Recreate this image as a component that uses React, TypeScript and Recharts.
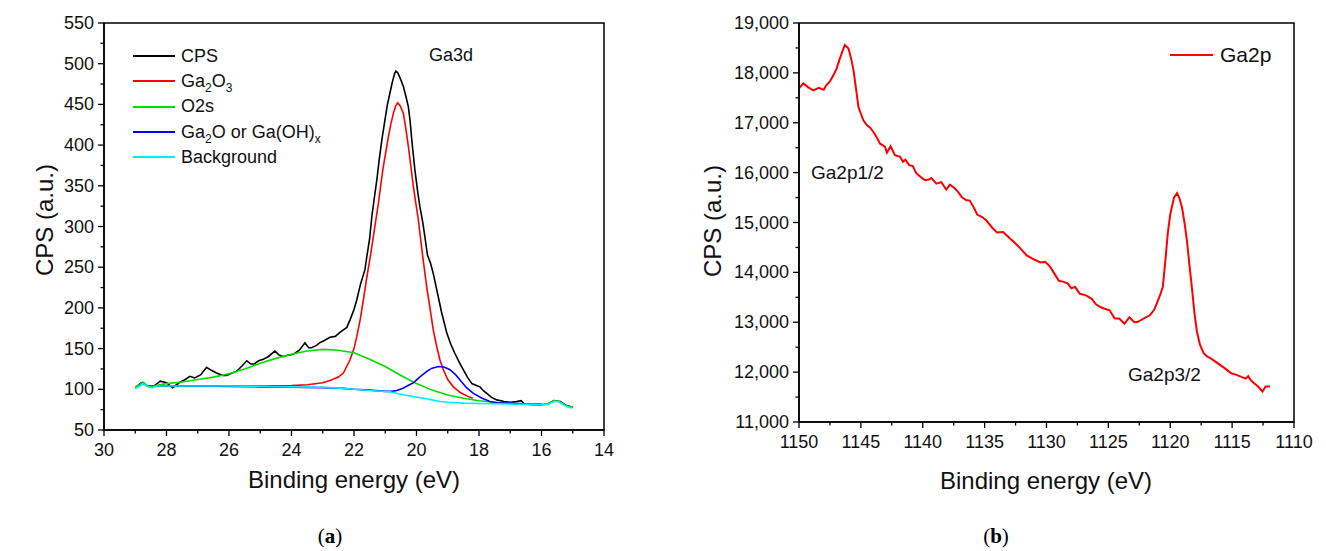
import React from 'react';
import { LineChart, Line, XAxis, YAxis, ReferenceArea, Legend } from 'recharts';

// ---------- (a) Ga3d region: [binding energy eV, CPS]
const cpsScan: [number, number][] = [
  [29.0, 102], [28.8, 108], [28.6, 104], [28.4, 104], [28.2, 110], [28.0, 108], [27.8, 102], [27.6, 108],
  [27.4, 112], [27.25, 116], [27.1, 114], [26.9, 118], [26.72, 127], [26.55, 123], [26.4, 120], [26.2, 117],
  [26.08, 117], [25.9, 120], [25.76, 122], [25.6, 128], [25.43, 135], [25.3, 131], [25.2, 131], [25.05, 135],
  [24.9, 137], [24.75, 140], [24.53, 147], [24.4, 142], [24.26, 140], [24.1, 142], [23.95, 143], [23.75, 148],
  [23.57, 157], [23.45, 151], [23.36, 151], [23.2, 154], [23.1, 157], [22.95, 160], [22.77, 164], [22.6, 165],
  [22.45, 170], [22.34, 173], [22.23, 176], [22.13, 185], [22.0, 198], [21.91, 210], [21.8, 228], [21.65, 247],
  [21.59, 263], [21.5, 285], [21.43, 312], [21.35, 335], [21.27, 357], [21.2, 380], [21.11, 406], [21.0, 433],
  [20.93, 450], [20.85, 464], [20.77, 478], [20.7, 488], [20.66, 491], [20.6, 489], [20.52, 482], [20.42, 472],
  [20.34, 460], [20.26, 447], [20.2, 428], [20.15, 406], [20.05, 369], [19.97, 345], [19.89, 324], [19.8, 305],
  [19.73, 287], [19.65, 265], [19.55, 255], [19.45, 240], [19.35, 222], [19.2, 195], [19.03, 169], [18.9, 155],
  [18.77, 144], [18.63, 133], [18.5, 124], [18.37, 115], [18.23, 107], [18.1, 105], [17.97, 103], [17.85, 98],
  [17.75, 95], [17.6, 90], [17.43, 87], [17.2, 85], [17.0, 84], [16.8, 85], [16.65, 86], [16.55, 82],
  [16.3, 81], [16.0, 81], [15.8, 82], [15.6, 86], [15.4, 85], [15.2, 80], [15.0, 78],
];

const ga2o3Fit: [number, number][] = [
  [28.3, 104], [27, 104], [26, 104], [25, 104], [24, 104.5], [23.5, 105.5], [23, 108], [22.75, 111],
  [22.5, 115], [22.34, 120], [22.13, 136], [22.0, 150], [21.91, 165], [21.8, 186], [21.7, 210], [21.6, 235],
  [21.47, 265], [21.38, 288], [21.3, 308], [21.22, 328], [21.14, 352], [21.06, 374], [20.98, 392], [20.9, 410],
  [20.82, 426], [20.74, 439], [20.67, 448], [20.6, 452], [20.52, 448], [20.42, 439], [20.34, 420], [20.26, 398],
  [20.18, 374], [20.1, 349], [20.02, 328], [19.94, 308], [19.87, 285], [19.8, 263], [19.67, 225], [19.57, 200],
  [19.46, 172], [19.35, 152], [19.25, 136], [19.14, 124], [19.0, 112], [18.82, 103], [18.6, 96], [18.34, 91],
  [18.2, 89],
];

const o2sFit: [number, number][] = [
  [29.0, 102], [28.85, 106], [28.75, 109], [28.6, 104], [28.45, 103], [28.3, 105], [28.0, 107], [27.5, 109],
  [27.0, 112], [26.5, 115], [26.0, 119], [25.5, 125], [25.0, 132], [24.5, 138], [24.0, 143], [23.5, 147],
  [23.0, 149], [22.5, 148], [22.0, 145], [21.5, 137], [21.0, 128], [20.5, 117], [20.0, 107], [19.5, 99],
  [19.0, 93], [18.5, 89], [18.0, 86], [17.5, 84], [17.0, 83], [16.5, 82], [16.0, 81.5], [15.8, 82],
  [15.6, 86], [15.45, 85], [15.3, 82], [15.15, 79], [15.0, 78],
];

const ga2oFit: [number, number][] = [
  [28.3, 104], [27, 104], [26, 103.5], [25, 103], [24, 102.5], [23, 102], [22.45, 101.5], [22, 100],
  [21.5, 99], [21.0, 97.5], [20.8, 97.5], [20.63, 98.5], [20.45, 101], [20.3, 104], [20.1, 108], [19.9, 115],
  [19.67, 122], [19.5, 126], [19.3, 128], [19.1, 127], [18.93, 124], [18.75, 118], [18.6, 111], [18.4, 102],
  [18.18, 95], [17.9, 89], [17.65, 85], [17.4, 83.5], [17.0, 83], [16.5, 82], [16.0, 81.5],
];

const backgroundFit: [number, number][] = [
  [29.0, 101], [28.85, 104], [28.75, 107], [28.6, 103], [28.45, 102], [28.3, 104], [28.0, 104], [27.0, 104],
  [26.0, 104], [25.0, 103.5], [24.0, 103], [23.0, 102.5], [22.45, 101.5], [22.0, 100], [21.5, 98.5], [20.85, 97],
  [20.5, 94], [20.1, 91], [19.78, 89], [19.5, 87], [19.25, 85], [19.0, 84], [18.5, 83], [18.0, 82.5],
  [17.0, 82], [16.5, 81.5], [16.0, 81], [15.8, 81.5], [15.6, 85], [15.45, 85], [15.3, 81], [15.15, 78],
  [15.0, 77],
];

const ga3dXMajor = [30, 28, 26, 24, 22, 20, 18, 16, 14];
const ga3dXMinor = [29, 27, 25, 23, 21, 19, 17, 15];
const ga3dYMajor = [50, 100, 150, 200, 250, 300, 350, 400, 450, 500, 550];
const ga3dYMinor = [75, 125, 175, 225, 275, 325, 375, 425, 475, 525];

// ---------- (b) Ga2p region
const ga2pScan: [number, number][] = [
  [1150.0, 17690], [1149.65, 17790], [1149.25, 17710], [1148.85, 17650], [1148.4, 17700], [1148.0, 17660],
  [1147.8, 17750], [1147.5, 17830], [1147.2, 17960], [1146.95, 18090], [1146.75, 18250], [1146.55, 18390],
  [1146.3, 18560], [1146.0, 18490], [1145.8, 18300], [1145.6, 18060], [1145.4, 17700], [1145.2, 17320],
  [1145.0, 17180], [1144.8, 17050], [1144.5, 16950], [1144.25, 16900], [1144.0, 16820], [1143.7, 16700],
  [1143.45, 16580], [1143.05, 16520], [1142.9, 16400], [1142.6, 16530], [1142.25, 16350], [1141.85, 16320],
  [1141.6, 16220], [1141.4, 16260], [1141.1, 16150], [1140.8, 16130], [1140.55, 16000], [1140.35, 15950],
  [1140.0, 15880], [1139.8, 15850], [1139.5, 15860], [1139.3, 15890], [1138.9, 15780], [1138.5, 15810],
  [1138.1, 15660], [1137.8, 15760], [1137.4, 15680], [1137.1, 15600], [1136.85, 15510], [1136.5, 15450],
  [1136.2, 15440], [1135.9, 15310], [1135.6, 15160], [1135.2, 15110], [1134.85, 15040], [1134.4, 14900],
  [1134.0, 14800], [1133.5, 14810], [1132.95, 14680], [1132.5, 14580], [1132.15, 14490], [1131.6, 14340],
  [1131.1, 14270], [1130.5, 14200], [1130.1, 14210], [1129.7, 14110], [1129.3, 13950], [1129.0, 13830],
  [1128.6, 13810], [1128.25, 13770], [1128.0, 13680], [1127.7, 13710], [1127.3, 13570], [1126.8, 13540],
  [1126.35, 13470], [1126.0, 13360], [1125.6, 13300], [1125.3, 13270], [1124.9, 13240], [1124.5, 13080],
  [1124.1, 13070], [1123.7, 12970], [1123.3, 13100], [1122.9, 13000], [1122.6, 13010], [1122.2, 13070],
  [1121.65, 13140], [1121.3, 13250], [1121.1, 13370], [1120.8, 13560], [1120.6, 13710], [1120.4, 14220],
  [1120.2, 14780], [1120.0, 15160], [1119.7, 15500], [1119.45, 15590], [1119.25, 15480], [1119.05, 15300],
  [1118.85, 15000], [1118.65, 14630], [1118.45, 14150], [1118.25, 13690], [1118.05, 13200], [1117.85, 12820],
  [1117.6, 12550], [1117.3, 12380], [1117.0, 12310], [1116.75, 12280], [1116.35, 12210], [1115.95, 12140],
  [1115.5, 12060], [1115.1, 11980], [1114.7, 11950], [1114.3, 11910], [1113.9, 11870], [1113.7, 11920],
  [1113.5, 11840], [1113.2, 11770], [1112.9, 11710], [1112.55, 11610], [1112.3, 11710], [1111.95, 11710],
];

const ga2pXMajor = [1150, 1145, 1140, 1135, 1130, 1125, 1120, 1115, 1110];
const ga2pXMinor = [1147.5, 1142.5, 1137.5, 1132.5, 1127.5, 1122.5, 1117.5, 1112.5];
const ga2pYMajor = [11000, 12000, 13000, 14000, 15000, 16000, 17000, 18000, 19000];
const ga2pYMinor = [11500, 12500, 13500, 14500, 15500, 16500, 17500, 18500];

const FONT = '"Liberation Sans", Arial, Helvetica, sans-serif';
const SERIF = '"Liberation Serif", "Times New Roman", serif';

const toPoints = (pts: [number, number][]) => pts.map(([x, y]) => ({ x, y }));

function subStyle(): React.CSSProperties {
  return { fontSize: 12, verticalAlign: '-5px', lineHeight: 0 };
}

const ga3dSeries = [
  { key: 'cps', label: <>CPS</>, color: '#000000', data: toPoints(cpsScan) },
  { key: 'ga2o3', label: <>Ga<sub style={subStyle()}>2</sub>O<sub style={subStyle()}>3</sub></>, color: '#ff0000', data: toPoints(ga2o3Fit) },
  { key: 'o2s', label: <>O2s</>, color: '#00dd00', data: toPoints(o2sFit) },
  { key: 'ga2o', label: <>Ga<sub style={subStyle()}>2</sub>O or Ga(OH)<sub style={subStyle()}>x</sub></>, color: '#0000ff', data: toPoints(ga2oFit) },
  { key: 'bg', label: <>Background</>, color: '#00eeff', data: toPoints(backgroundFit) },
];

// tick with outward major/minor tick marks; labels only on majors
const makeXTick = (majors: number[], fmt: (v: number) => string) => (props: any) => {
  const { x, y, payload } = props;
  const isMajor = majors.includes(payload.value);
  return (
    <g>
      <line x1={x} x2={x} y1={y} y2={y + (isMajor ? 6 : 3.5)} stroke="#000" strokeWidth={1.3} />
      {isMajor && (
        <text x={x} y={y + 19.5} textAnchor="middle" dominantBaseline="central" fontFamily={FONT} fontSize={18} fill="#111">
          {fmt(payload.value)}
        </text>
      )}
    </g>
  );
};

const makeYTick = (majors: number[], fmt: (v: number) => string) => (props: any) => {
  const { x, y, payload } = props;
  const isMajor = majors.includes(payload.value);
  return (
    <g>
      <line x1={x - (isMajor ? 6 : 3.5)} x2={x} y1={y} y2={y} stroke="#000" strokeWidth={1.3} />
      {isMajor && (
        <text x={x - 10} y={y} textAnchor="end" dominantBaseline="central" fontFamily={FONT} fontSize={18} fill="#111">
          {fmt(payload.value)}
        </text>
      )}
    </g>
  );
};

const plain = (v: number) => String(v);
const thousands = (v: number) => v.toLocaleString('en-US');

const Ga3dLegend = () => (
  <div style={{ fontFamily: FONT, fontSize: 18, color: '#111' }}>
    {ga3dSeries.map((s) => (
      <div key={s.key} style={{ display: 'flex', alignItems: 'center', height: 25.3, whiteSpace: 'nowrap' }}>
        <span style={{ display: 'inline-block', width: 42, borderTop: `2px solid ${s.color}`, marginRight: 6 }} />
        <span>{s.label}</span>
      </div>
    ))}
  </div>
);

const Ga2pLegend = () => (
  <div style={{ fontFamily: FONT, fontSize: 21, color: '#111', display: 'flex', alignItems: 'center', height: 26, whiteSpace: 'nowrap' }}>
    <span style={{ display: 'inline-block', width: 43, borderTop: '2px solid #ff0000', marginRight: 7 }} />
    <span>Ga2p</span>
  </div>
);

export default function App() {
  return (
    <div style={{ position: 'absolute', left: 0, top: 0, width: 1326, height: 551, background: '#fff', overflow: 'hidden' }}>
      {/* (a) Ga3d */}
      <div style={{ position: 'absolute', left: 0, top: 0 }}>
        <LineChart width={630} height={500} margin={{ top: 23, right: 26, bottom: 40, left: 44 }}>
          <XAxis
            type="number"
            dataKey="x"
            domain={[14, 30]}
            reversed
            allowDataOverflow
            ticks={[...ga3dXMajor, ...ga3dXMinor].sort((a, b) => a - b)}
            interval={0}
            tickSize={0}
            tickMargin={0}
            height={30}
            axisLine={{ stroke: '#000', strokeWidth: 1.5 }}
            tick={makeXTick(ga3dXMajor, plain)}
          />
          <YAxis
            type="number"
            dataKey="y"
            domain={[50, 550]}
            allowDataOverflow
            ticks={[...ga3dYMajor, ...ga3dYMinor].sort((a, b) => a - b)}
            interval={0}
            tickSize={0}
            tickMargin={0}
            width={60}
            axisLine={{ stroke: '#000', strokeWidth: 1.5 }}
            tick={makeYTick(ga3dYMajor, plain)}
          />
          <ReferenceArea x1={14} x2={30} y1={50} y2={550} fill="none" stroke="#000" strokeWidth={1.5} ifOverflow="visible" />
          {ga3dSeries.map((s) => (
            <Line
              key={s.key}
              data={s.data}
              dataKey="y"
              type="linear"
              stroke={s.color}
              strokeWidth={1.6}
              dot={false}
              isAnimationActive={false}
            />
          ))}
          <Legend
            layout="vertical"
            align="center"
            verticalAlign="middle"
            content={() => <Ga3dLegend />}
            wrapperStyle={{ top: 43.5, left: 133, width: 'auto', height: 'auto', bottom: 'auto' }}
          />
        </LineChart>
      </div>

      {/* (b) Ga2p */}
      <div style={{ position: 'absolute', left: 680, top: 0 }}>
        <LineChart width={646} height={480} margin={{ top: 23, right: 32, bottom: 28, left: 59 }}>
          <XAxis
            type="number"
            dataKey="x"
            domain={[1110, 1150]}
            reversed
            allowDataOverflow
            ticks={[...ga2pXMajor, ...ga2pXMinor].sort((a, b) => a - b)}
            interval={0}
            tickSize={0}
            tickMargin={0}
            height={30}
            axisLine={{ stroke: '#000', strokeWidth: 1.5 }}
            tick={makeXTick(ga2pXMajor, plain)}
          />
          <YAxis
            type="number"
            dataKey="y"
            domain={[11000, 19000]}
            allowDataOverflow
            ticks={[...ga2pYMajor, ...ga2pYMinor].sort((a, b) => a - b)}
            interval={0}
            tickSize={0}
            tickMargin={0}
            width={60}
            axisLine={{ stroke: '#000', strokeWidth: 1.5 }}
            tick={makeYTick(ga2pYMajor, thousands)}
          />
          <ReferenceArea x1={1110} x2={1150} y1={11000} y2={19000} fill="none" stroke="#000" strokeWidth={1.5} ifOverflow="visible" />
          <Line
            data={toPoints(ga2pScan)}
            dataKey="y"
            type="linear"
            stroke="#ff0000"
            strokeWidth={2}
            dot={false}
            isAnimationActive={false}
          />
          <Legend
            layout="vertical"
            align="center"
            verticalAlign="middle"
            content={() => <Ga2pLegend />}
            wrapperStyle={{ top: 42, left: 490, width: 'auto', height: 'auto', bottom: 'auto' }}
          />
        </LineChart>
      </div>

      {/* titles and annotations */}
      <svg width={1326} height={551} style={{ position: 'absolute', left: 0, top: 0, pointerEvents: 'none' }}>
        <g fontFamily={FONT} fill="#111">
          <text x={354} y={479} fontSize={24} textAnchor="middle" dominantBaseline="central">Binding energy (eV)</text>
          <text x={1046} y={480} fontSize={24} textAnchor="middle" dominantBaseline="central">Binding energy (eV)</text>
          <text x={44} y={220} fontSize={24} textAnchor="middle" dominantBaseline="central" transform="rotate(-90 44 220)">CPS (a.u.)</text>
          <text x={712} y={221} fontSize={24} textAnchor="middle" dominantBaseline="central" transform="rotate(-90 712 221)">CPS (a.u.)</text>
          <text x={451} y={55} fontSize={18} textAnchor="middle" dominantBaseline="central">Ga3d</text>
          <text x={811} y={172} fontSize={19} dominantBaseline="central">Ga2p1/2</text>
          <text x={1128} y={374} fontSize={19} dominantBaseline="central">Ga2p3/2</text>
        </g>
        <g fontFamily={SERIF} fontSize={21} fill="#000">
          <text x={330} y={536} textAnchor="middle" dominantBaseline="central">(<tspan fontWeight="bold">a</tspan>)</text>
          <text x={996} y={536} textAnchor="middle" dominantBaseline="central">(<tspan fontWeight="bold">b</tspan>)</text>
        </g>
      </svg>
    </div>
  );
}
